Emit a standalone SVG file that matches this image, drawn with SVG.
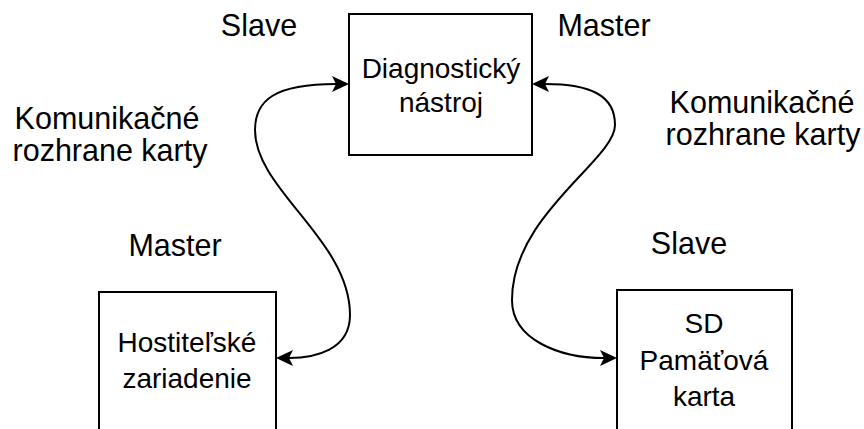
<svg xmlns="http://www.w3.org/2000/svg" width="864" height="429" viewBox="0 0 864 429">
  <style>
    .box { fill: #ffffff; stroke: #000000; stroke-width: 2; }
    .wire { fill: none; stroke: #000000; stroke-width: 2; }
    text { font-family: "Liberation Sans", Arial, sans-serif; fill: #000000; text-anchor: middle; }
    .node-text { font-size: 28px; }
    .label { font-size: 30.5px; }
  </style>
  <defs>
    <marker id="arrow" markerUnits="userSpaceOnUse" markerWidth="20" markerHeight="20"
            viewBox="0 -10 20 20" refX="4" refY="0" orient="auto-start-reverse">
      <path d="M 0 -8 L 17 0 L 0 8 L 4 0 Z" fill="#000000"/>
    </marker>
  </defs>
  <rect width="864" height="429" fill="#ffffff"/>

  <!-- connectors -->
  <g id="connectors">
    <path class="wire" d="M 336 84 C 275 84 255 100 255 130 C 255 190 350 240 350 315 C 350 350 315 358 289 358"
          marker-start="url(#arrow)" marker-end="url(#arrow)"/>
    <path class="wire" d="M 545 84 C 590 84 615 95 615 125 C 615 160 512 215 512 300 C 512 340 560 358 604 358"
          marker-start="url(#arrow)" marker-end="url(#arrow)"/>
  </g>

  <!-- nodes -->
  <g id="diagnostic-tool">
    <rect class="box" x="349" y="14" width="183" height="141"/>
    <text class="node-text" x="441" y="78">Diagnostický</text>
    <text class="node-text" x="441" y="112">nástroj</text>
  </g>
  <g id="host-device">
    <rect class="box" x="99" y="292" width="177" height="150"/>
    <text class="node-text" x="187" y="352">Hostiteľské</text>
    <text class="node-text" x="187" y="388">zariadenie</text>
  </g>
  <g id="sd-card">
    <rect class="box" x="617" y="290" width="175" height="152"/>
    <text class="node-text" x="704" y="333">SD</text>
    <text class="node-text" x="704" y="370">Pamäťová</text>
    <text class="node-text" x="704" y="406">karta</text>
  </g>

  <!-- role and interface labels -->
  <g id="labels">
    <text class="label" x="259" y="36">Slave</text>
    <text class="label" x="604" y="36">Master</text>
    <text class="label" x="175" y="256">Master</text>
    <text class="label" x="689" y="254">Slave</text>
    <text class="label" x="107" y="129">Komunikačné</text>
    <text class="label" x="110" y="161">rozhrane karty</text>
    <text class="label" x="762" y="113">Komunikačné</text>
    <text class="label" x="763" y="145">rozhrane karty</text>
  </g>
</svg>
